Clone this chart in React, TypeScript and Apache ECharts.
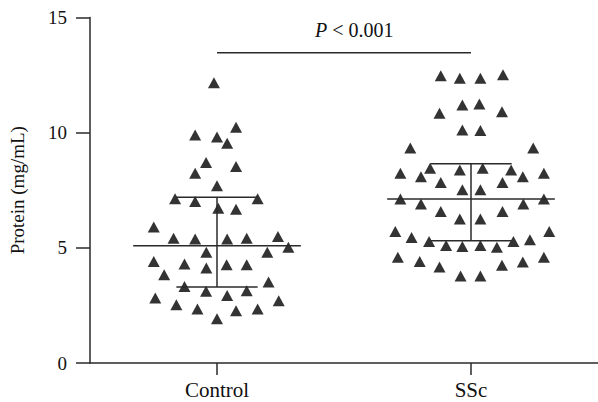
import React, { useEffect, useRef } from "react";
import * as echarts from "echarts";

const categories = ["Control", "SSc"];
const categoryCenters = [0.5, 1.5];
const yTicks = [0, 5, 10, 15];

// jitter offsets (category units) and protein values
const controlOffsets = [
  -0.012, 0.075, -0.086, 0, 0.04, -0.043, 0.075, -0.086, 0, -0.165, -0.086, 0.16, 0.005, 0.075,
  -0.249, -0.171, -0.086, 0.04, 0.117, 0.24, -0.042, 0.198, 0.281, -0.249, -0.128, -0.042, 0.038,
  0.117, -0.208, -0.128, -0.043, 0.04, 0.117, 0.203, -0.243, -0.16, -0.077, 0, 0.075, 0.16, 0.243,
];
const controlValues = [
  12.17, 10.23, 9.9, 9.81, 9.54, 8.7, 8.53, 8.24, 7.69, 7.13, 7.01, 7.13, 6.72, 6.68,
  5.9, 5.42, 5.38, 5.38, 5.42, 5.49, 4.81, 4.81, 5.02, 4.41, 4.3, 4.12, 4.27,
  4.27, 3.83, 3.32, 3.11, 2.93, 3.14, 3.52, 2.82, 2.53, 2.34, 1.92, 2.27, 2.34, 2.7,
];
const sscOffsets = [
  -0.119, -0.044, 0.037, 0.126, -0.124, -0.034, 0.033, 0.122, -0.034, 0.037, -0.239, 0.245,
  -0.278, -0.197, -0.161, -0.044, 0.046, 0.158, 0.204, 0.287, -0.119, 0.124, -0.034, 0.037,
  -0.278, 0.287, -0.197, 0.206, -0.119, 0.124, -0.044, 0.037, -0.298, 0.308, -0.234, -0.165,
  -0.098, -0.034, 0.037, 0.102, 0.167, 0.232, -0.288, -0.202, -0.124, -0.041, 0.037, 0.122,
  0.204, 0.287,
];
const sscValues = [
  12.47, 12.36, 12.36, 12.51, 10.84, 11.2, 11.25, 10.91, 10.12, 10.09, 9.33, 9.33,
  8.24, 8.09, 8.46, 8.38, 8.46, 8.38, 8.09, 8.24, 7.84, 7.84, 7.52, 7.52,
  7.12, 7.12, 6.9, 6.9, 6.58, 6.58, 6.25, 6.25, 5.71, 5.71, 5.45, 5.28,
  5.1, 5.06, 5.1, 5.03, 5.28, 5.35, 4.59, 4.41, 4.17, 3.78, 3.78, 4.24,
  4.39, 4.59,
];

// mean, lower SD, upper SD
const means = [5.09, 7.12];
const lowerSD = [3.3, 5.31];
const upperSD = [7.2, 8.65];

const pText = "P < 0.001";
const bracketY = 13.47;
const pTextY = 14.46;

const FONT = "'Liberation Serif', 'Times New Roman', serif";

export default function App() {
  const ref = useRef<HTMLDivElement>(null);

  useEffect(() => {
    if (!ref.current) return;
    const chart = echarts.init(ref.current, undefined, { renderer: "svg" });

    const controlData = controlValues.map((v, i) => [categoryCenters[0] + controlOffsets[i], v]);
    const sscData = sscValues.map((v, i) => [categoryCenters[1] + sscOffsets[i], v]);
    const statData = categoryCenters.map((c, i) => [c, means[i], lowerSD[i], upperSD[i]]);

    const lineStyle = { stroke: "#2a2a2a", lineWidth: 1.5 };

    const option: any = {
      animation: false,
      backgroundColor: "#ffffff",
      grid: { left: 86, right: 0, top: 17.5, bottom: 39, containLabel: false },
      xAxis: {
        type: "value",
        min: 0,
        max: 2,
        interval: 0.5,
        splitLine: { show: false },
        axisLine: { show: true, onZero: false, lineStyle: { color: "#2a2a2a", width: 1.5 } },
        axisTick: {
          show: true,
          length: 12,
          customValues: categoryCenters,
          lineStyle: { color: "#2a2a2a", width: 1.5 },
        },
        axisLabel: {
          customValues: categoryCenters,
          formatter: (v: number) => {
            const idx = categoryCenters.indexOf(v);
            return idx >= 0 ? categories[idx] : "";
          },
          margin: 16,
          fontFamily: FONT,
          fontSize: 21,
          color: "#111",
        },
      },
      yAxis: {
        type: "value",
        min: yTicks[0],
        max: yTicks[yTicks.length - 1],
        interval: 5,
        name: "Protein (mg/mL)",
        nameLocation: "middle",
        nameGap: 63,
        nameTextStyle: { fontFamily: FONT, fontSize: 19, color: "#111" },
        splitLine: { show: false },
        axisLine: { show: true, lineStyle: { color: "#2a2a2a", width: 1.5 } },
        axisTick: { show: true, length: 14, lineStyle: { color: "#2a2a2a", width: 1.5 } },
        axisLabel: { margin: 23, fontFamily: FONT, fontSize: 19, color: "#111" },
      },
      series: [
        {
          type: "scatter",
          name: "Control",
          data: controlData,
          symbol: "triangle",
          symbolSize: [12, 11],
          itemStyle: { color: "#000" },
          z: 2,
        },
        {
          type: "scatter",
          name: "SSc",
          data: sscData,
          symbol: "triangle",
          symbolSize: [12, 11],
          itemStyle: { color: "#000" },
          z: 2,
        },
        {
          type: "custom",
          data: statData,
          z: 3,
          renderItem: (params: any, api: any) => {
            const x = api.value(0);
            const m = api.value(1);
            const lo = api.value(2);
            const hi = api.value(3);
            const mL = api.coord([x - 0.33, m]);
            const mR = api.coord([x + 0.33, m]);
            const top = api.coord([x, hi]);
            const bot = api.coord([x, lo]);
            const capTL = api.coord([x - 0.16, hi]);
            const capTR = api.coord([x + 0.16, hi]);
            const capBL = api.coord([x - 0.16, lo]);
            const capBR = api.coord([x + 0.16, lo]);
            return {
              type: "group",
              children: [
                { type: "line", shape: { x1: mL[0], y1: mL[1], x2: mR[0], y2: mR[1] }, style: lineStyle },
                { type: "line", shape: { x1: top[0], y1: top[1], x2: bot[0], y2: bot[1] }, style: lineStyle },
                { type: "line", shape: { x1: capTL[0], y1: capTL[1], x2: capTR[0], y2: capTR[1] }, style: lineStyle },
                { type: "line", shape: { x1: capBL[0], y1: capBL[1], x2: capBR[0], y2: capBR[1] }, style: lineStyle },
              ],
            };
          },
        },
        {
          type: "custom",
          data: [[categoryCenters[0], categoryCenters[1], bracketY, pTextY]],
          z: 3,
          renderItem: (params: any, api: any) => {
            const x1 = api.value(0);
            const x2 = api.value(1);
            const y = api.value(2);
            const ty = api.value(3);
            const a = api.coord([x1, y]);
            const b = api.coord([x2, y]);
            const t = api.coord([(x1 + x2) / 2 + 0.04, ty]);
            return {
              type: "group",
              children: [
                { type: "line", shape: { x1: a[0], y1: a[1], x2: b[0], y2: b[1] }, style: lineStyle },
                {
                  type: "text",
                  x: t[0],
                  y: t[1],
                  style: {
                    text: "{i|P}" + pText.slice(1),
                    rich: { i: { fontStyle: "italic", fontFamily: FONT, fontSize: 20, fill: "#111" } },
                    fontFamily: FONT,
                    fontSize: 20,
                    fill: "#111",
                    align: "center",
                    verticalAlign: "middle",
                  },
                },
              ],
            };
          },
        },
      ],
    };

    chart.setOption(option);
    return () => chart.dispose();
  }, []);

  return (
    <div
      ref={ref}
      style={{ position: "fixed", left: 0, top: 0, width: 598, height: 402, background: "#fff" }}
    />
  );
}
